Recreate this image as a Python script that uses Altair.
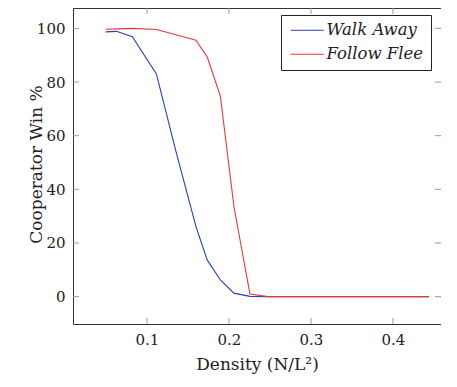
import altair as alt
import pandas as pd

# ---- data ----
density = [0.0496, 0.0627, 0.0822, 0.1115, 0.1355, 0.1598, 0.1734, 0.1895,
           0.2061, 0.2256, 0.2476, 0.30, 0.35, 0.40, 0.444]
walk_away = [98.7, 98.9, 96.9, 83.0, 54.0, 26.1, 13.7, 6.2,
             1.3, 0.1, 0.0, 0.0, 0.0, 0.0, 0.0]
follow_flee = [99.7, 99.8, 100.0, 99.6, 97.6, 95.6, 89.4, 74.8,
               33.5, 1.0, 0.0, 0.0, 0.0, 0.0, 0.0]
series = ["Walk Away", "Follow Flee"]
colors = ["#2a40b8", "#e8383a"]
x_ticks = [0.1, 0.2, 0.3, 0.4]
y_ticks = [0, 20, 40, 60, 80, 100]
x_domain = [0.0098, 0.4586]
y_domain = [-10.2, 107.6]

W, H = 368, 316
FONT = "DejaVu Serif"
TICK = 6

df = pd.DataFrame({
    "density": density + density,
    "win": walk_away + follow_flee,
    "series": [series[0]] * len(density) + [series[1]] * len(density),
})
xt = pd.DataFrame({"t": x_ticks})
yt = pd.DataFrame({"t": y_ticks})

xs = alt.Scale(domain=x_domain, nice=False, zero=False)
ys = alt.Scale(domain=y_domain, nice=False, zero=False)

x_axis = alt.Axis(values=x_ticks, format=".1f", title="Density (N/L²)",
                  titleX=W / 2, titleY=45, titleAlign="center",
                  titleBaseline="alphabetic", labelPadding=8,
                  titleFontWeight=400, titleFont=FONT, titleFontSize=17)
y_axis = alt.Axis(values=y_ticks, title="Cooperator Win %",
                  titleX=-32, titleY=H / 2 - 2, titleAngle=270,
                  titleAlign="center", titleBaseline="alphabetic",
                  labelPadding=8, labelBaseline="middle",
                  titleFontWeight=400, titleFont=FONT, titleFontSize=17)

tick_color = "#9a9a9a"
bottom = alt.Chart(xt).mark_rule(color=tick_color, strokeWidth=1).encode(
    x=alt.X("t:Q", scale=xs, axis=x_axis), y=alt.value(H), y2=alt.value(H - TICK))
top = alt.Chart(xt).mark_rule(color=tick_color, strokeWidth=1).encode(
    x=alt.X("t:Q", scale=xs, axis=x_axis), y=alt.value(0), y2=alt.value(TICK))
left = alt.Chart(yt).mark_rule(color=tick_color, strokeWidth=1).encode(
    y=alt.Y("t:Q", scale=ys, axis=y_axis), x=alt.value(0), x2=alt.value(TICK))
right = alt.Chart(yt).mark_rule(color=tick_color, strokeWidth=1).encode(
    y=alt.Y("t:Q", scale=ys, axis=y_axis), x=alt.value(W - TICK), x2=alt.value(W))

lines = alt.Chart(df).mark_line(strokeWidth=1.1).encode(
    x=alt.X("density:Q", scale=xs, axis=x_axis),
    y=alt.Y("win:Q", scale=ys, axis=y_axis),
    color=alt.Color("series:N", scale=alt.Scale(domain=series, range=colors),
                    legend=alt.Legend(title=None, orient="none", legendX=208, legendY=7,
                                      direction="vertical", symbolType="M-3,0H3",
                                      symbolSize=121, symbolStrokeWidth=1.1,
                                      symbolOffset=11,
                                      labelFont=FONT, labelFontStyle="italic",
                                      labelFontSize=16.5, labelColor="#222",
                                      fillColor="white", strokeColor="#222",
                                      padding=7, rowPadding=7, labelOffset=11,
                                      cornerRadius=0)),
)

chart = alt.layer(bottom, top, left, right, lines).properties(
    width=W, height=H,
    padding={"left": 65, "top": 0, "right": 0, "bottom": 50},
    autosize=alt.AutoSizeParams(type="none"),
).configure_view(
    stroke="#333", strokeWidth=1
).configure_axis(
    labelFont=FONT, labelFontSize=15, labelColor="#222",
    titleFont=FONT, titleFontSize=17, titleFontWeight="normal", titleColor="#222",
    domain=False, ticks=False, grid=False,
)

chart.save("out.html", embed_options={"renderer": "svg", "actions": False})
